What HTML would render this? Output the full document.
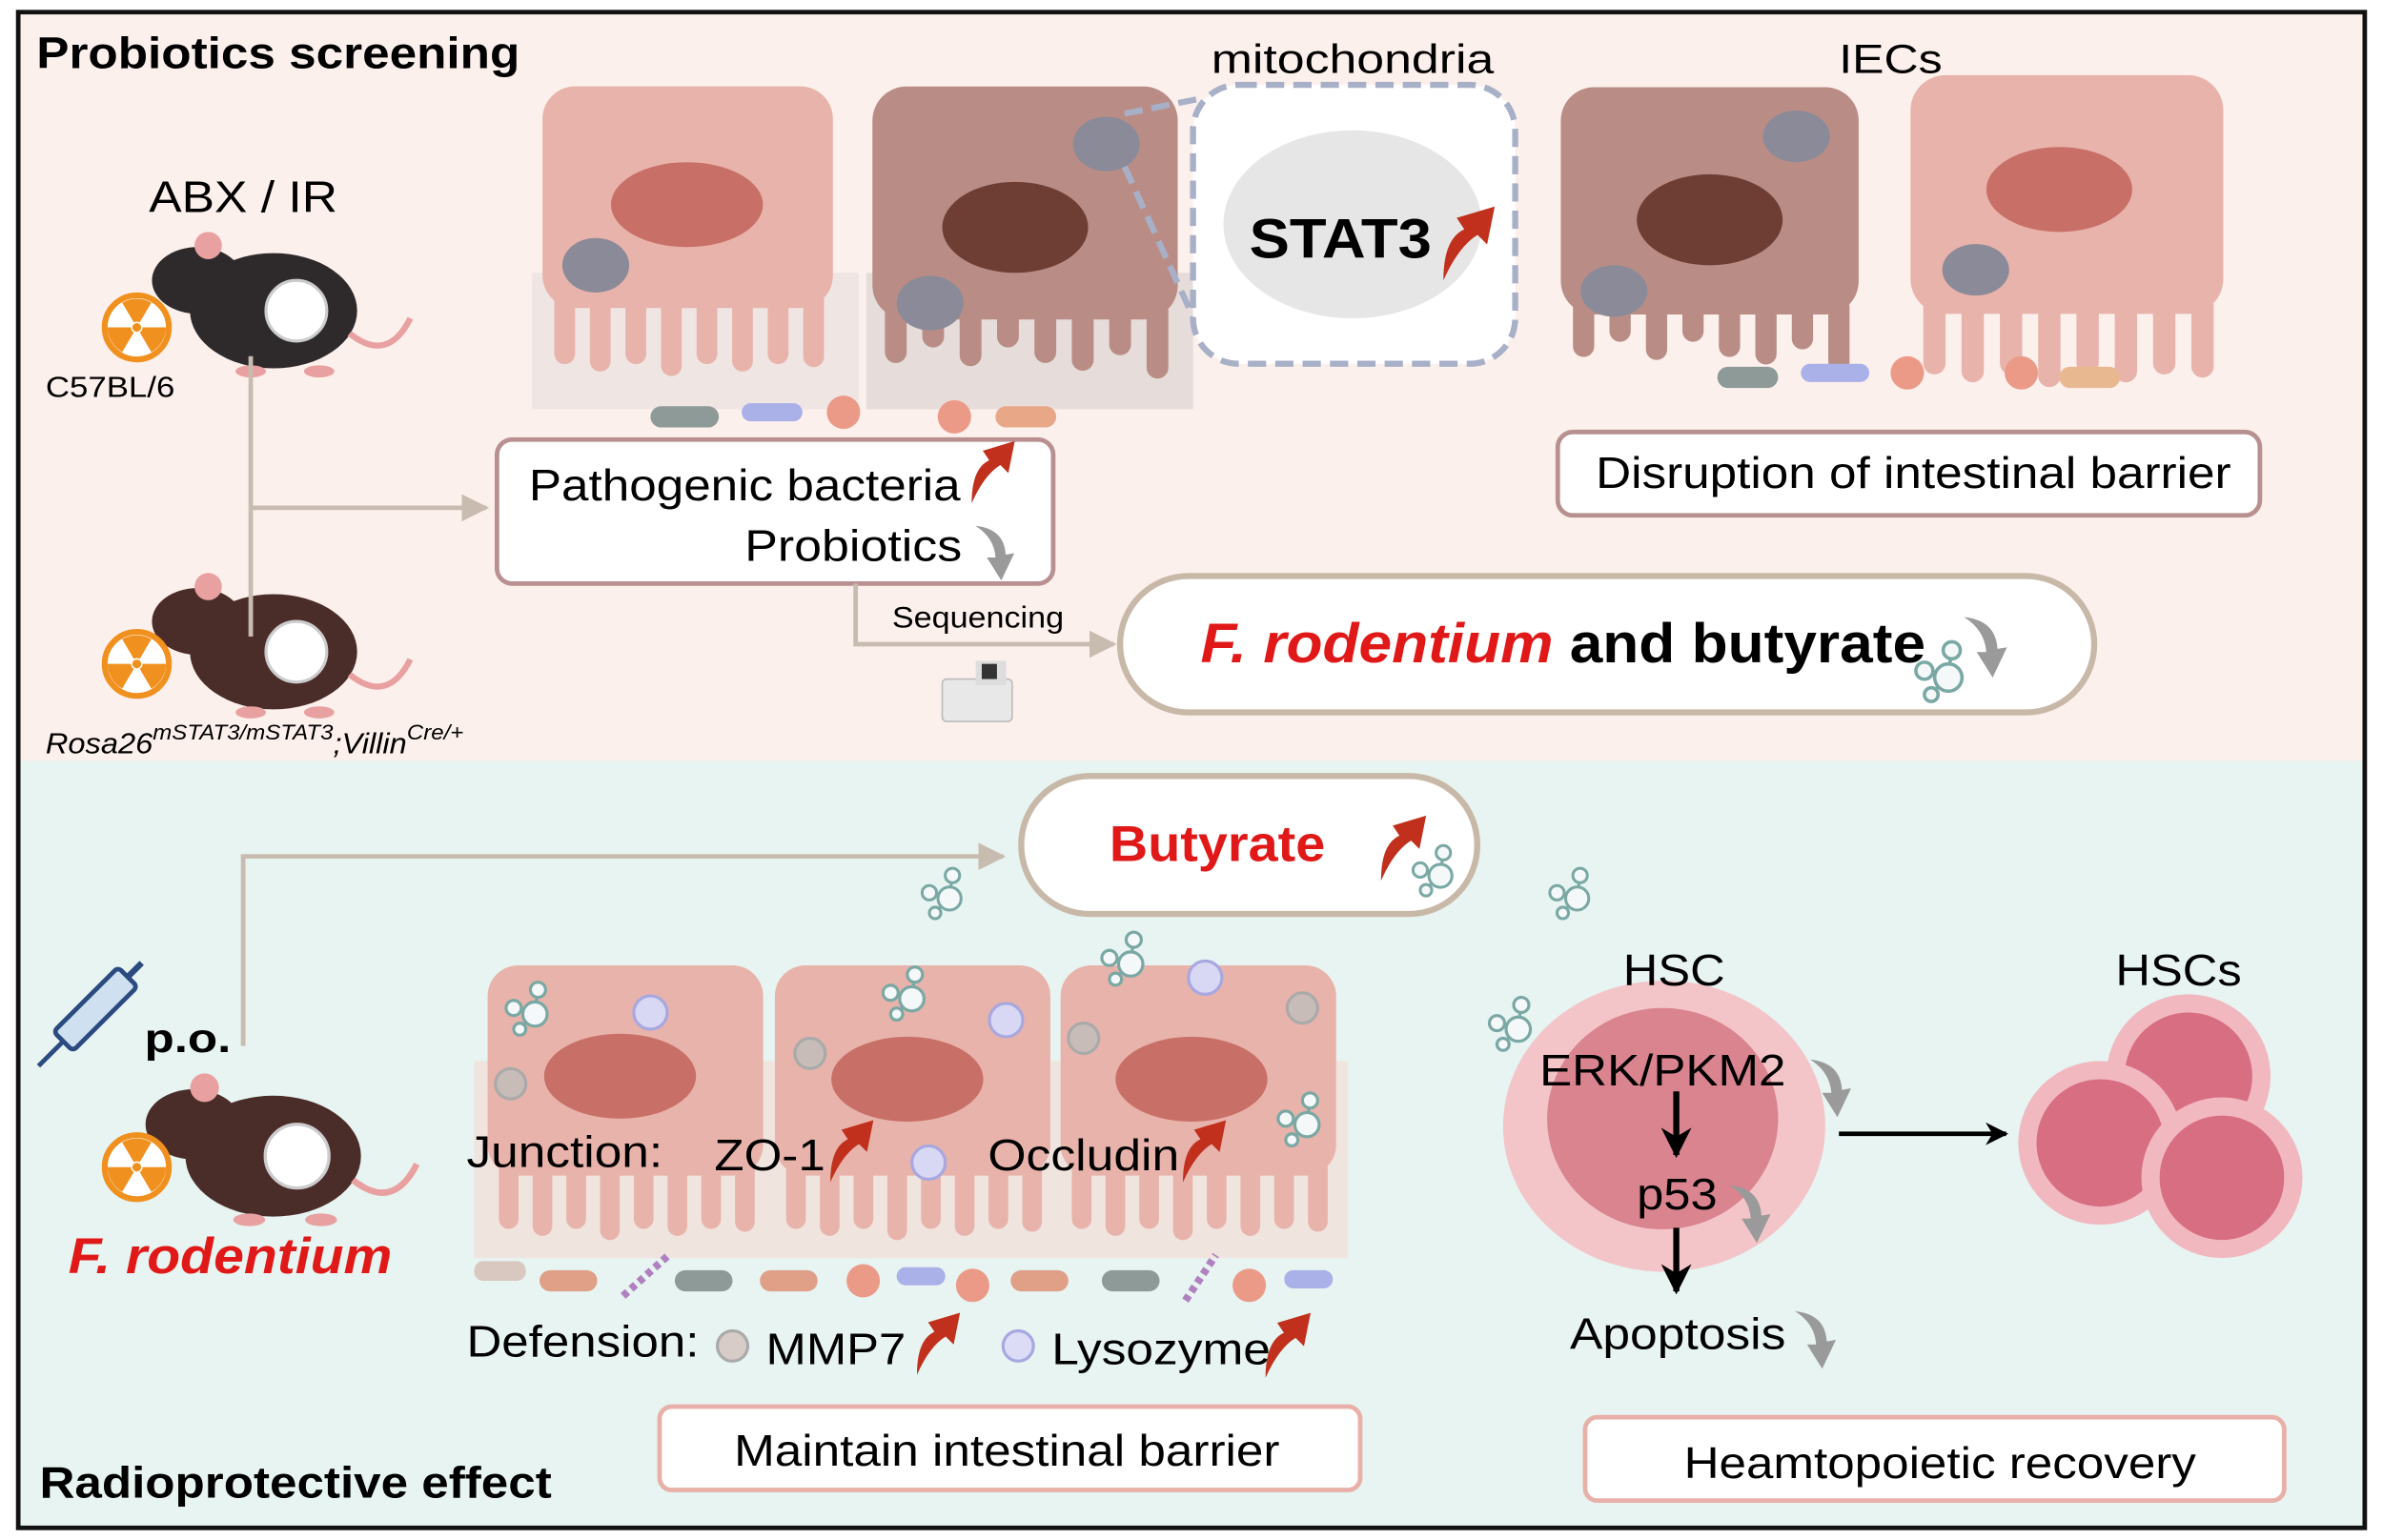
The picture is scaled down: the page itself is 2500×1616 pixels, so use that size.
<!DOCTYPE html>
<html><head><meta charset="utf-8"><style>
html,body{margin:0;padding:0;background:#fff}
svg{display:block}
text{font-family:"Liberation Sans",Arial,sans-serif}
</style></head><body>
<svg width="2500" height="1616" viewBox="0 0 1568 1016" preserveAspectRatio="none" xmlns="http://www.w3.org/2000/svg">
<defs>
<symbol id="cellP" viewBox="0 0 200 200">
 <rect x="2" y="2" width="196" height="150" rx="22" fill="#e8b3aa"/>
 <g fill="#e8b3aa">
  <rect x="10" y="140" width="14" height="50" rx="7"/><rect x="34" y="140" width="14" height="55" rx="7"/>
  <rect x="58" y="140" width="14" height="50" rx="7"/><rect x="82" y="140" width="14" height="58" rx="7"/>
  <rect x="106" y="140" width="14" height="50" rx="7"/><rect x="130" y="140" width="14" height="55" rx="7"/>
  <rect x="154" y="140" width="14" height="50" rx="7"/><rect x="178" y="140" width="14" height="52" rx="7"/>
 </g>
</symbol>
<symbol id="cellD" viewBox="0 0 200 200">
 <rect x="2" y="2" width="196" height="150" rx="22" fill="#b98d86"/>
 <g fill="#b98d86">
  <rect x="10" y="140" width="14" height="40" rx="7"/><rect x="34" y="140" width="14" height="30" rx="7"/>
  <rect x="58" y="140" width="14" height="42" rx="7"/><rect x="82" y="140" width="14" height="30" rx="7"/>
  <rect x="106" y="140" width="14" height="40" rx="7"/><rect x="130" y="140" width="14" height="45" rx="7"/>
  <rect x="154" y="140" width="14" height="35" rx="7"/><rect x="178" y="140" width="14" height="50" rx="7"/>
 </g>
</symbol>
<symbol id="red" viewBox="0 0 30 40"><path d="M2 40 Q2 18 13 13 L9 7 L29 1 L25 21 L20 16 Q10 22 2 40Z" fill="#c0301c"/></symbol>
<symbol id="gray" viewBox="0 0 30 40"><path d="M0 2 Q20 4 21 22 L27 21 L18 40 L8 24 L14 24 Q13 10 0 2Z" fill="#9a9a9a"/></symbol>
<symbol id="rad" viewBox="0 0 50 50"><circle cx="25" cy="25" r="22" fill="#fff" stroke="#f0901e" stroke-width="4"/><path d="M25 25 L15 8 A20 20 0 0 1 35 8Z M25 25 L45 25 A20 20 0 0 1 35 42Z M25 25 L15 42 A20 20 0 0 1 5 25Z" fill="#f0901e"/><circle cx="25" cy="25" r="4" fill="#fff"/><circle cx="25" cy="25" r="3" fill="#f0901e"/></symbol>
<symbol id="mouse" viewBox="0 0 180 100">
 <ellipse cx="85" cy="55" rx="55" ry="38" fill="currentColor"/>
 <ellipse cx="35" cy="35" rx="30" ry="22" fill="currentColor"/>
 <circle cx="42" cy="12" r="9" fill="#e8a0a0"/>
 <path d="M135 70 Q160 90 175 60" stroke="#e8a0a0" stroke-width="4" fill="none"/>
 <ellipse cx="70" cy="95" rx="10" ry="4" fill="#e8a0a0"/><ellipse cx="115" cy="95" rx="10" ry="4" fill="#e8a0a0"/>
 <circle cx="100" cy="55" r="20" fill="#fff" stroke="#ccc" stroke-width="2"/>
</symbol>
<symbol id="mol" viewBox="0 0 40 40"><g stroke="#7aa8a4" stroke-width="2" fill="#f4f8f8"><line x1="10" y1="20" x2="24" y2="22"/><line x1="24" y1="22" x2="26" y2="8"/><line x1="24" y1="22" x2="14" y2="34"/><circle cx="10" cy="20" r="5"/><circle cx="26" cy="8" r="5"/><circle cx="24" cy="24" r="8"/><circle cx="14" cy="34" r="4"/></g></symbol>
<marker id="ah" viewBox="0 0 10 10" refX="9" refY="5" markerWidth="6" markerHeight="6" orient="auto"><path d="M0 0 L10 5 L0 10z" fill="#c8bcb0"/></marker>
<marker id="ak" viewBox="0 0 10 10" refX="9" refY="5" markerWidth="5" markerHeight="5" orient="auto"><path d="M0 0 L10 5 L0 10 L3 5z" fill="#000"/></marker>
</defs>

<rect x="0" y="0" width="1568" height="1016" fill="#fff"/>
<rect x="12" y="8" width="1544" height="494" fill="#fcf0ec"/>
<rect x="12" y="502" width="1544" height="506" fill="#e7f4f1"/>
<rect x="12" y="8" width="1544" height="1000" fill="none" stroke="#111" stroke-width="3"/>

<!-- TOP -->
<text x="24" y="45" font-size="29" font-weight="bold" textLength="318" lengthAdjust="spacingAndGlyphs">Probiotics screening</text>
<text x="98" y="140" font-size="29" textLength="124" lengthAdjust="spacingAndGlyphs">ABX / IR</text>
<use href="#mouse" x="90" y="150" width="190" height="100" style="color:#2e2a2c"/>
<use href="#rad" x="66" y="192" width="48" height="48"/>
<text x="30" y="262" font-size="19" textLength="85" lengthAdjust="spacingAndGlyphs">C57BL/6</text>
<use href="#mouse" x="90" y="375" width="190" height="100" style="color:#4a2c28"/>
<use href="#rad" x="66" y="414" width="48" height="48"/>
<text x="30" y="497" font-size="19" font-style="italic" textLength="275" lengthAdjust="spacingAndGlyphs">Rosa26<tspan font-size="14" dy="-9">mSTAT3/mSTAT3</tspan><tspan dy="9">;Villin</tspan><tspan font-size="14" dy="-9">Cre/+</tspan></text>

<line x1="165" y1="235" x2="165" y2="420" stroke="#c8bcb0" stroke-width="3"/>
<line x1="165" y1="335" x2="320" y2="335" stroke="#c8bcb0" stroke-width="3" marker-end="url(#ah)"/>

<!-- top cells -->
<rect x="350" y="180" width="215" height="90" fill="#e9e0df" opacity="0.7"/>
<use href="#cellP" x="350" y="55" width="205" height="195"/>
<ellipse cx="452" cy="135" rx="50" ry="28" fill="#c87068"/>
<ellipse cx="392" cy="175" rx="22" ry="18" fill="#8a8a98"/>
<rect x="570" y="180" width="215" height="90" fill="#ddd3d2" opacity="0.7"/>
<use href="#cellD" x="572" y="55" width="205" height="205"/>
<ellipse cx="668" cy="150" rx="48" ry="30" fill="#6e3e34"/>
<ellipse cx="728" cy="95" rx="22" ry="18" fill="#8a8a98"/>
<ellipse cx="612" cy="200" rx="22" ry="18" fill="#8a8a98"/>
<line x1="740" y1="75" x2="790" y2="65" stroke="#a8b0c8" stroke-width="4" stroke-dasharray="12 6"/>
<line x1="740" y1="110" x2="790" y2="220" stroke="#a8b0c8" stroke-width="4" stroke-dasharray="12 6"/>
<rect x="785" y="56" width="212" height="184" rx="30" fill="#fff" stroke="#a8b0c8" stroke-width="4" stroke-dasharray="12 6"/>
<ellipse cx="890" cy="148" rx="85" ry="62" fill="#e6e6e6"/>
<text x="797" y="48" font-size="27" textLength="186" lengthAdjust="spacingAndGlyphs">mitochondria</text>
<text x="822" y="170" font-size="37" font-weight="bold" textLength="120" lengthAdjust="spacingAndGlyphs">STAT3</text>
<use href="#red" x="945" y="135" width="42" height="50"/>

<text x="1210" y="48" font-size="27" textLength="68" lengthAdjust="spacingAndGlyphs">IECs</text>
<use href="#cellD" x="1025" y="48" width="200" height="215"/>
<ellipse cx="1125" cy="145" rx="48" ry="30" fill="#6e3e34"/>
<ellipse cx="1182" cy="90" rx="22" ry="17" fill="#8a8a98"/>
<ellipse cx="1062" cy="192" rx="22" ry="17" fill="#8a8a98"/>
<use href="#cellP" x="1255" y="45" width="210" height="215"/>
<ellipse cx="1355" cy="125" rx="48" ry="28" fill="#c87068"/>
<ellipse cx="1300" cy="178" rx="22" ry="17" fill="#8a8a98"/>
<g>
<rect x="428" y="268" width="45" height="14" rx="7" fill="#8e9a98"/>
<rect x="488" y="266" width="40" height="12" rx="6" fill="#aab0e8"/>
<circle cx="555" cy="272" r="11" fill="#ec9a88"/>
<circle cx="628" cy="275" r="11" fill="#ec9a88"/>
<rect x="655" y="268" width="40" height="14" rx="7" fill="#e8a888"/>
<rect x="1130" y="242" width="40" height="14" rx="7" fill="#8e9a98"/>
<rect x="1185" y="240" width="45" height="12" rx="6" fill="#aab0e8"/>
<circle cx="1255" cy="246" r="11" fill="#ec9a88"/>
<circle cx="1330" cy="246" r="11" fill="#ec9a88"/>
<rect x="1355" y="242" width="40" height="14" rx="7" fill="#e8b890"/>
</g>

<rect x="327" y="290" width="366" height="95" rx="10" fill="#fff" stroke="#b89090" stroke-width="3"/>
<text x="348" y="330" font-size="29" textLength="284" lengthAdjust="spacingAndGlyphs">Pathogenic bacteria</text>
<use href="#red" x="636" y="290" width="34" height="42"/>
<text x="490" y="370" font-size="29" textLength="143" lengthAdjust="spacingAndGlyphs">Probiotics</text>
<use href="#gray" x="640" y="345" width="32" height="38"/>

<rect x="1025" y="285" width="462" height="55" rx="10" fill="#fff" stroke="#b89090" stroke-width="3"/>
<text x="1050" y="322" font-size="29" textLength="418" lengthAdjust="spacingAndGlyphs">Disruption of intestinal barrier</text>

<polyline points="563,385 563,425 733,425" fill="none" stroke="#c8bcb0" stroke-width="3" marker-end="url(#ah)"/>
<text x="587" y="414" font-size="20" textLength="113" lengthAdjust="spacingAndGlyphs">Sequencing</text>
<rect x="620" y="448" width="46" height="28" rx="3" fill="#e8e8e8" stroke="#bbb"/>
<rect x="642" y="436" width="20" height="16" fill="#ddd"/><rect x="646" y="438" width="10" height="10" fill="#333"/>

<rect x="737" y="380" width="641" height="90" rx="45" fill="#fff" stroke="#c8b8a8" stroke-width="4"/>
<text x="790" y="437" font-size="37" font-weight="bold" textLength="477" lengthAdjust="spacingAndGlyphs"><tspan fill="#e01818" font-style="italic">F. rodentium</tspan> and butyrate</text>
<use href="#mol" x="1255" y="420" width="45" height="45"/>
<use href="#gray" x="1290" y="405" width="36" height="42"/>

<!-- BOTTOM -->
<polyline points="160,690 160,565 660,565" fill="none" stroke="#c8bcb0" stroke-width="3" marker-end="url(#ah)"/>
<rect x="672" y="512" width="300" height="91" rx="45" fill="#fff" stroke="#c8b8a8" stroke-width="4"/>
<text x="730" y="568" font-size="33" font-weight="bold" fill="#e01818" textLength="142" lengthAdjust="spacingAndGlyphs">Butyrate</text>
<use href="#red" x="905" y="537" width="36" height="44"/>
<use href="#mol" x="925" y="555" width="38" height="38"/>
<use href="#mol" x="602" y="570" width="38" height="38"/>
<use href="#mol" x="1015" y="570" width="38" height="38"/>
<use href="#mol" x="975" y="655" width="40" height="40"/>

<g transform="translate(30,640) rotate(45 30 30)">
<rect x="20" y="-5" width="18" height="60" rx="3" fill="#cfe0f0" stroke="#2a4a80" stroke-width="3"/>
<line x1="29" y1="55" x2="29" y2="78" stroke="#2a4a80" stroke-width="3"/>
<line x1="29" y1="-5" x2="29" y2="-18" stroke="#2a4a80" stroke-width="4"/>
</g>
<text x="95" y="694" font-size="27" font-weight="bold" textLength="57" lengthAdjust="spacingAndGlyphs">p.o.</text>
<use href="#mouse" x="85" y="705" width="200" height="105" style="color:#4a2c28"/>
<use href="#rad" x="66" y="746" width="48" height="48"/>
<text x="45" y="840" font-size="33" font-weight="bold" font-style="italic" fill="#e01818" textLength="213" lengthAdjust="spacingAndGlyphs">F. rodentium</text>

<rect x="312" y="700" width="575" height="130" fill="#f6d8d4" opacity="0.6"/>
<use href="#cellP" x="318" y="635" width="187" height="185"/>
<use href="#cellP" x="507" y="635" width="187" height="185"/>
<use href="#cellP" x="695" y="635" width="187" height="185"/>
<ellipse cx="408" cy="710" rx="50" ry="28" fill="#c87068"/>
<ellipse cx="597" cy="712" rx="50" ry="28" fill="#c87068"/>
<ellipse cx="784" cy="712" rx="50" ry="28" fill="#c87068"/>
<g stroke-width="2">
<circle cx="428" cy="668" r="11" fill="#d8d8f4" stroke="#a8a8e0"/>
<circle cx="662" cy="673" r="11" fill="#d8d8f4" stroke="#a8a8e0"/>
<circle cx="793" cy="645" r="11" fill="#d8d8f4" stroke="#a8a8e0"/>
<circle cx="611" cy="767" r="11" fill="#d8d8f4" stroke="#a8a8e0"/>
<circle cx="336" cy="715" r="10" fill="#c8bcb8" stroke="#aaa"/>
<circle cx="533" cy="695" r="10" fill="#c8bcb8" stroke="#aaa"/>
<circle cx="713" cy="685" r="10" fill="#c8bcb8" stroke="#aaa"/>
<circle cx="857" cy="665" r="10" fill="#c8bcb8" stroke="#aaa"/>
</g>
<use href="#mol" x="328" y="645" width="40" height="40"/>
<use href="#mol" x="576" y="635" width="40" height="40"/>
<use href="#mol" x="720" y="612" width="40" height="40"/>
<use href="#mol" x="836" y="718" width="40" height="40"/>
<text x="307" y="770" font-size="29" textLength="129" lengthAdjust="spacingAndGlyphs">Junction:</text>
<text x="470" y="772" font-size="29" textLength="73" lengthAdjust="spacingAndGlyphs">ZO-1</text>
<use href="#red" x="543" y="738" width="34" height="42"/>
<text x="650" y="772" font-size="29" textLength="126" lengthAdjust="spacingAndGlyphs">Occludin</text>
<use href="#red" x="775" y="738" width="34" height="42"/>
<g>
<rect x="312" y="832" width="34" height="13" rx="6" fill="#d8c8c0"/>
<rect x="355" y="838" width="38" height="14" rx="7" fill="#e0a088"/>
<rect x="444" y="838" width="38" height="14" rx="7" fill="#8e9a98"/>
<rect x="500" y="838" width="38" height="14" rx="7" fill="#e0a088"/>
<circle cx="568" cy="845" r="11" fill="#ec9a88"/>
<rect x="590" y="836" width="32" height="12" rx="6" fill="#aab0e8"/>
<circle cx="640" cy="848" r="11" fill="#ec9a88"/>
<rect x="665" y="838" width="38" height="14" rx="7" fill="#e0a088"/>
<rect x="725" y="838" width="38" height="14" rx="7" fill="#8e9a98"/>
<circle cx="822" cy="848" r="11" fill="#ec9a88"/>
<rect x="845" y="838" width="32" height="12" rx="6" fill="#aab0e8"/>
<path d="M410 855 L440 828 M780 858 L800 828" stroke="#b080c0" stroke-width="5" stroke-dasharray="4 3"/>
</g>
<text x="307" y="895" font-size="29" textLength="153" lengthAdjust="spacingAndGlyphs">Defension:</text>
<circle cx="482" cy="888" r="10" fill="#d8ccc8" stroke="#aaa" stroke-width="2"/>
<text x="504" y="900" font-size="29" textLength="92" lengthAdjust="spacingAndGlyphs">MMP7</text>
<use href="#red" x="600" y="865" width="34" height="42"/>
<circle cx="670" cy="888" r="10" fill="#dcdcf6" stroke="#a8a8e0" stroke-width="2"/>
<text x="692" y="900" font-size="29" textLength="144" lengthAdjust="spacingAndGlyphs">Lysozyme</text>
<use href="#red" x="830" y="865" width="34" height="44"/>
<rect x="434" y="928" width="461" height="55" rx="8" fill="#fff" stroke="#e8b0a8" stroke-width="3"/>
<text x="483" y="967" font-size="29" textLength="359" lengthAdjust="spacingAndGlyphs">Maintain intestinal barrier</text>
<text x="26" y="988" font-size="29" font-weight="bold" textLength="337" lengthAdjust="spacingAndGlyphs">Radioprotective effect</text>

<!-- HSC -->
<ellipse cx="1095" cy="743" rx="106" ry="96" fill="#f3c4c8"/>
<ellipse cx="1094" cy="738" rx="76" ry="73" fill="#d9848f"/>
<text x="1068" y="650" font-size="29" textLength="67" lengthAdjust="spacingAndGlyphs">HSC</text>
<text x="1013" y="716" font-size="29" textLength="162" lengthAdjust="spacingAndGlyphs">ERK/PKM2</text>
<line x1="1103" y1="720" x2="1103" y2="762" stroke="#000" stroke-width="4" marker-end="url(#ak)"/>
<use href="#gray" x="1190" y="697" width="32" height="40"/>
<text x="1077" y="798" font-size="29" textLength="53" lengthAdjust="spacingAndGlyphs">p53</text>
<use href="#gray" x="1137" y="780" width="32" height="40"/>
<line x1="1103" y1="810" x2="1103" y2="852" stroke="#000" stroke-width="4" marker-end="url(#ak)"/>
<text x="1033" y="890" font-size="29" textLength="142" lengthAdjust="spacingAndGlyphs">Apoptosis</text>
<use href="#gray" x="1180" y="863" width="32" height="40"/>
<line x1="1210" y1="748" x2="1320" y2="748" stroke="#000" stroke-width="3" marker-end="url(#ak)"/>
<text x="1392" y="650" font-size="29" textLength="83" lengthAdjust="spacingAndGlyphs">HSCs</text>
<circle cx="1440" cy="710" r="54" fill="#f1b8c0"/><circle cx="1440" cy="710" r="42" fill="#d86e82"/>
<circle cx="1382" cy="754" r="54" fill="#f1b8c0"/><circle cx="1382" cy="754" r="42" fill="#d86e82"/>
<circle cx="1462" cy="777" r="53" fill="#f1b8c0"/><circle cx="1462" cy="777" r="41" fill="#d86e82"/>
<rect x="1043" y="935" width="460" height="55" rx="8" fill="#fff" stroke="#e8b0a8" stroke-width="3"/>
<text x="1108" y="975" font-size="29" textLength="337" lengthAdjust="spacingAndGlyphs">Heamtopoietic recovery</text>
</svg>
</body></html>
